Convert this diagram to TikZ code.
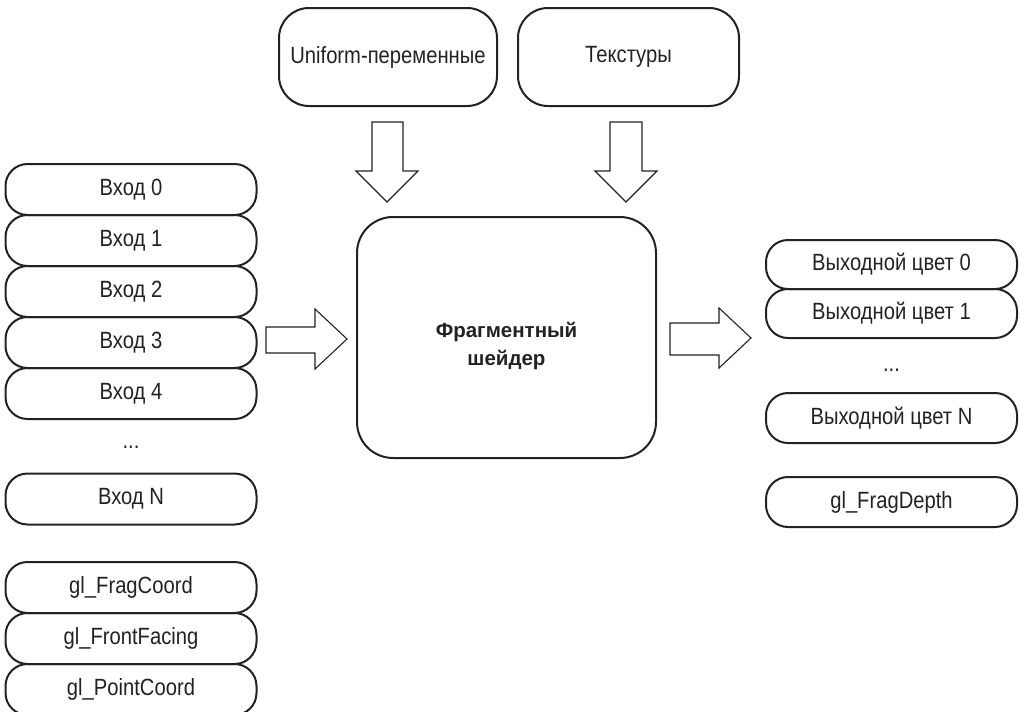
\documentclass[tikz,border=0pt]{standalone}
\usepackage{fontspec}
\setmainfont[FakeStretch=0.86]{Liberation Sans}
\newfontfamily\titlefont{Liberation Sans}
\definecolor{ink}{HTML}{222222}
\begin{document}
\begin{tikzpicture}[x=1pt,y=-1pt,
  box/.style={draw=ink, line width=2pt, rounded corners=22pt, inner sep=0pt,
    minimum width=251pt, minimum height=51pt, text=ink,
    font=\fontsize{23.5}{28}\selectfont},
  topbox/.style={box, rounded corners=30pt, minimum height=98pt},
  mainbox/.style={draw=ink, line width=2pt, rounded corners=36pt, inner sep=0pt,
    minimum width=299pt, minimum height=241pt},
  maintext/.style={text=ink, align=center, inner sep=0pt,
    font=\titlefont\bfseries\fontsize{20.5}{28}\selectfont},
  dots/.style={text=ink, font=\fontsize{23.5}{28}\selectfont},
  blockarrow/.style={draw=ink, line width=1.1pt, fill=white, line join=miter}
]
\useasboundingbox (0,0) rectangle (1020,712);
\begin{scope}
\clip (0,0) rectangle (1020,712);
% top inputs
\node[topbox, minimum width=218pt] (unif) at (388,57) {\raisebox{-3pt}{Uniform-переменные}};
\node[topbox, minimum width=221pt] (tex) at (628.5,57) {\raisebox{-3pt}{Текстуры}};
% main shader
\node[mainbox] (shader) at (506.5,337.5) {};
\node[maintext] (shadertext) at (506.5,346) {Фрагментный\\шейдер};
% left inputs
\node[box] (in0) at (131,189.5) {Вход 0};
\node[box] (in1) at (131,240.5) {Вход 1};
\node[box] (in2) at (131,291.5) {Вход 2};
\node[box] (in3) at (131,342.5) {Вход 3};
\node[box] (in4) at (131,393.5) {Вход 4};
\node[dots] (indots) at (131,447) {...};
\node[box] (inN) at (131,499) {Вход N};
\node[box] (fc) at (131,587.5) {gl\_FragCoord};
\node[box] (ff) at (131,638.5) {gl\_FrontFacing};
\node[box] (pc) at (131,689.5) {gl\_PointCoord};
% right outputs
\node[box, minimum height=49pt] (out0) at (891.5,264.5) {Выходной цвет 0};
\node[box, minimum height=49pt] (out1) at (891.5,313.5) {Выходной цвет 1};
\node[dots] (outdots) at (891.5,370) {...};
\node[box, minimum height=50pt] (outN) at (891.5,418) {Выходной цвет N};
\node[box, minimum height=50pt] (depth) at (891.5,502) {gl\_FragDepth};
\end{scope}
% block arrows
\draw[blockarrow] (372,122) -- (403,122) -- (403,171) -- (418,171) -- (387,202)
  -- (356,171) -- (372,171) -- cycle;
\draw[blockarrow] (610,122) -- (642,122) -- (642,171) -- (657,171) -- (626,202)
  -- (595,171) -- (610,171) -- cycle;
\draw[blockarrow] (266,327) -- (315,327) -- (315,309) -- (347,339) -- (315,369)
  -- (315,353) -- (266,353) -- cycle;
\draw[blockarrow] (670,323) -- (719,323) -- (719,308) -- (751,338) -- (719,368)
  -- (719,355) -- (670,355) -- cycle;
\end{tikzpicture}
\end{document}
